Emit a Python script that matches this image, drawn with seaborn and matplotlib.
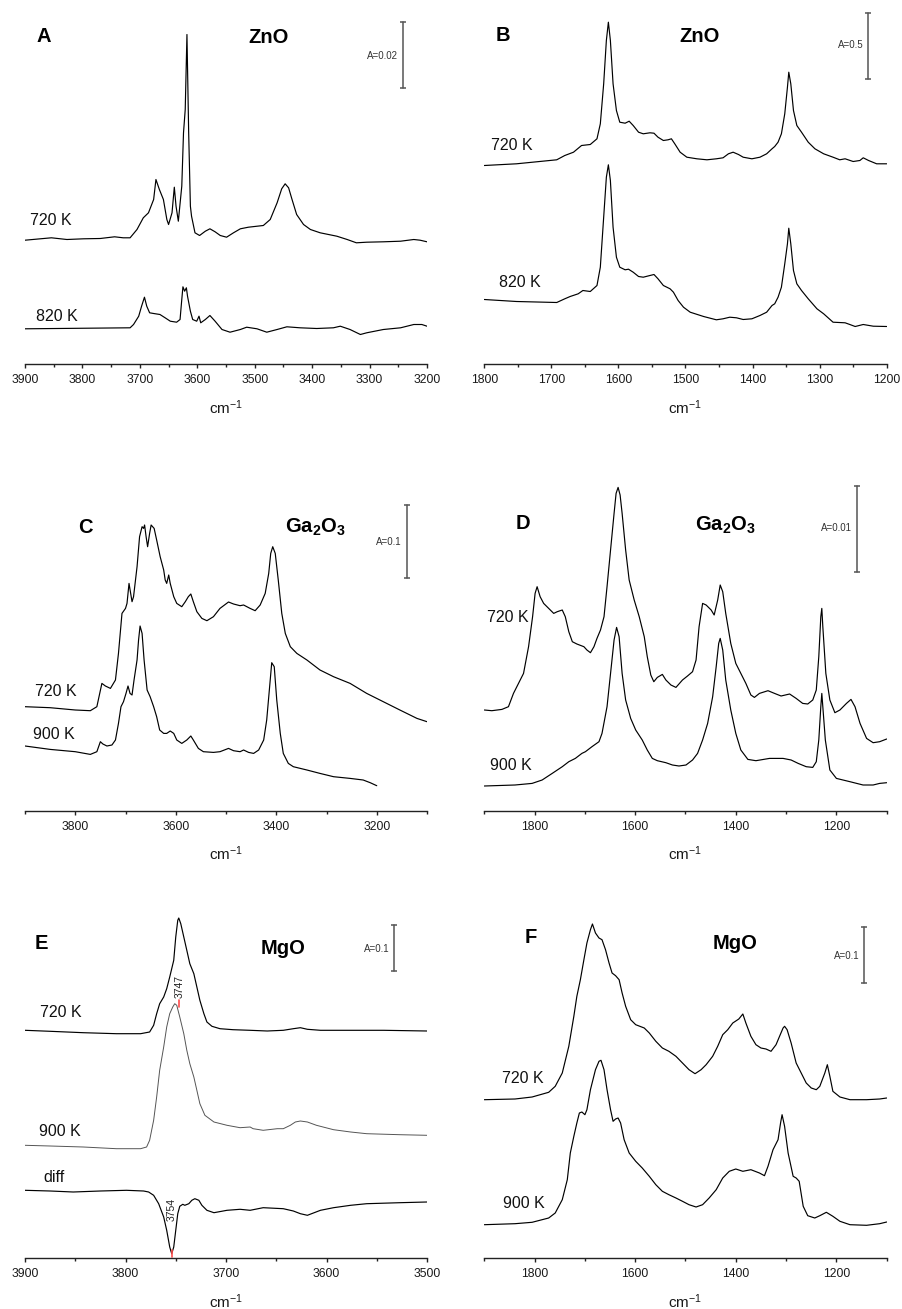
import matplotlib
matplotlib.use("Agg")
import matplotlib.pyplot as plt
from matplotlib.ticker import MultipleLocator
import seaborn as sns
import pandas as pd

# ---------------- data (wavenumber cm-1, absorbance in arbitrary offset units) ----------------
A720_wn = [3900,3854,3827,3798,3769,3744,3729,3717,3705,3694,3685,3676,3672,3666,3659,3653,3650,3644,3640,3637,3633,3627,3624,3621,3618,3615,3612,3610,3604,3596,3586,3578,3569,3560,3549,3537,3525,3511,3485,3473,3461,3453,3447,3441,3435,3427,3415,3403,3386,3357,3339,3323,3305,3276,3246,3223,3212,3200]
A720_ab = [124.3,126.7,125,125.7,126,127.7,126.7,126.7,135,146.7,151.7,165,185,175,165,145,140,151.7,177.3,158.3,143.3,178.3,231.7,255,330,231.7,158.3,148.3,131.7,129,133.3,135.7,132.7,129,127.3,131.7,135.7,137.3,139,145,161.7,175.7,180.7,176.7,165,150,140,135,131.7,128.3,125,121.7,122.3,122.7,123.3,125,124.3,122.7]
A820_wn = [3900,3717,3711,3702,3697,3692,3688,3683,3676,3665,3656,3647,3636,3630,3627,3625,3622,3619,3617,3612,3608,3601,3597,3594,3586,3578,3569,3557,3543,3525,3514,3496,3479,3461,3444,3421,3392,3363,3351,3334,3316,3305,3276,3246,3223,3209,3200]
A820_ab = [35.7,36.7,40,48.3,58.3,67.3,58.3,51.7,51,50,46.7,43.3,42.3,45,65,77.7,73.3,76.7,68.3,53.3,45,43.3,48.3,41.7,45,49,43.3,35,32.3,35,37.3,35.7,32.3,35,37.7,36.7,36,36.7,38.3,35,30,31.7,35,36.7,40,40,38.3]

B720_wn = [1800,1752,1692,1680,1667,1655,1642,1632,1627,1622,1618,1615,1612,1608,1603,1598,1590,1584,1578,1570,1563,1553,1547,1541,1533,1526,1521,1516,1508,1498,1483,1468,1454,1444,1436,1429,1421,1414,1401,1389,1379,1371,1367,1362,1357,1352,1348,1346,1343,1339,1334,1327,1317,1307,1294,1280,1270,1262,1250,1240,1235,1227,1215,1200]
B720_ab = [199,200.7,204.7,209,212.3,219,220,225.7,240.7,280.7,324,342.3,324,280.7,254,242.3,241.3,243.3,239,232.3,230.7,231.7,231.3,227.3,224,224.7,225.7,220.7,212.3,207.3,205.7,204.7,205.7,206.7,210.7,212.3,210,207.3,205.7,207.3,210.7,215.7,218,222.3,230.7,250.7,277.3,292.3,280.7,254,239,232.3,222.3,215.7,210.7,207.3,204.7,205.7,203,204,206.7,204,200.7,200.7]
B820_wn = [1800,1752,1692,1680,1672,1660,1653,1642,1632,1627,1622,1618,1615,1612,1608,1603,1598,1590,1585,1578,1570,1563,1553,1547,1541,1533,1523,1518,1511,1503,1493,1473,1454,1444,1434,1424,1414,1401,1389,1379,1371,1367,1362,1357,1352,1348,1346,1343,1339,1334,1327,1317,1304,1294,1280,1262,1255,1247,1235,1220,1200]
B820_ab = [65,63,62,65.7,68,70.7,74,73,79,97.3,147.3,187.3,199.7,184,137.3,107.3,97.3,94.7,95.3,92.3,88,87.3,89,90,85.7,79,75.7,72.3,64,57.3,52.3,48,44.7,45.7,47.3,46.7,45,45.7,49,52.3,59,60.7,67.3,77.3,100.7,120.7,136.3,120.7,94,80.7,74,65.7,55.7,50.7,42.3,41.7,40,38,40,38.3,38]

C720_wn = [3900,3850,3800,3770,3757,3747,3740,3730,3720,3714,3707,3700,3697,3693,3687,3684,3677,3672,3667,3664,3662,3659,3656,3652,3649,3643,3638,3631,3624,3621,3618,3614,3611,3604,3598,3588,3581,3575,3570,3565,3558,3548,3538,3525,3512,3495,3485,3472,3465,3452,3442,3432,3422,3415,3411,3407,3402,3396,3389,3382,3372,3359,3339,3313,3286,3253,3220,3187,3154,3120,3100]
C720_ab = [104,103,100.7,100,104,127.3,124.7,122.3,130.7,157.3,197.3,202.3,207.3,227.3,209,214,244,274,284,282.3,285.7,274,264,277.3,285.7,282.3,270.7,254,240.7,230.7,227.3,235.7,227.3,214,207.3,204,209,214,216.7,209,199,192.3,190,194,202.3,208.7,206.7,205,205.7,202.3,200,205.7,217.3,237.3,257.3,264,257.3,230.7,197.3,177.3,164,157.3,150.7,140.7,134,127.3,117.3,109,100.7,92.3,89]
C900_wn = [3900,3850,3800,3770,3757,3750,3745,3737,3727,3720,3714,3709,3704,3699,3695,3691,3687,3683,3677,3674,3671,3667,3663,3657,3651,3644,3638,3632,3624,3618,3611,3604,3598,3588,3578,3570,3565,3555,3545,3525,3512,3495,3485,3472,3465,3455,3445,3435,3425,3419,3412,3409,3404,3399,3392,3386,3376,3366,3339,3313,3286,3253,3227,3213,3200]
C900_ab = [64.7,61.3,59,56.3,59,69,66.7,64.7,65.7,70.7,87.3,104,109,117.3,124.7,117.3,115.7,130.7,150.7,170.7,184.7,177.3,150.7,120.7,114,104,94,80.7,77.3,77.3,79.7,77.3,70.7,67.3,70.7,74.7,70.7,62.3,59,58.3,59,62.3,60,59,60.7,58.3,57.3,60.7,70.7,90.7,130.7,148,144,110.7,77.3,57.3,47.3,44,40.7,37.3,34,32.3,30.7,28,25]

D720_wn = [1900,1885,1865,1852,1842,1832,1822,1812,1804,1799,1795,1789,1782,1772,1762,1755,1745,1739,1732,1725,1716,1702,1696,1689,1682,1676,1669,1662,1656,1649,1642,1638,1634,1630,1626,1619,1612,1602,1592,1582,1576,1569,1563,1556,1546,1539,1529,1519,1506,1496,1486,1479,1473,1466,1459,1449,1443,1436,1431,1426,1420,1410,1400,1390,1380,1370,1363,1353,1336,1323,1310,1293,1280,1267,1257,1247,1240,1235,1231,1229,1227,1221,1213,1203,1193,1180,1171,1163,1153,1140,1127,1114,1100]
D720_ab = [100.7,100,101.3,104,117.3,127.3,137.3,164,194,217.3,224,214,207.3,202.3,197.3,199,200.7,194,179,169,166.7,164,160.7,158,164,172.3,180.7,194,224,260.7,297.3,317.3,323.3,315.7,297.3,260.7,230.7,210.7,194,174,154,135.7,129,133.3,136.3,130.7,125.7,123.3,130.7,134.7,139,150.7,184,207.3,205.7,200.7,195.7,210.7,225.7,219,197.3,167.3,147.3,137.3,127.3,115.7,113.3,117.3,120,117.3,114.7,116.7,112.3,107.3,106.7,110.7,120.7,154,194,202.3,184,137.3,110.7,98,100.7,107.3,111.3,104,87.3,72.3,68,69,71.7]
D900_wn = [1900,1839,1805,1785,1765,1745,1732,1719,1706,1699,1686,1672,1666,1656,1649,1642,1637,1632,1626,1619,1609,1599,1586,1576,1566,1556,1539,1526,1513,1499,1486,1476,1466,1456,1446,1439,1434,1431,1426,1420,1410,1400,1390,1376,1360,1333,1306,1290,1276,1260,1247,1240,1235,1231,1229,1227,1222,1213,1200,1173,1147,1127,1114,1100]
D900_ab = [24.7,25.7,27.3,30.7,37.3,44,49,52.3,57.3,59,64,69,77.3,104,137.3,170.7,183.3,174,137.3,110.7,92.3,80.7,70.7,60.7,52.3,50,48,45.7,44.7,45.7,50.7,57.3,70.7,87.3,114,144,167.3,172.3,160.7,130.7,100.7,77.3,60.7,51.3,50,52.3,52.3,50.7,47.3,44,43.3,49,70.7,104,117.3,104,70.7,40.7,32.3,29,25.7,25.7,27.3,28]

E720_wn = [3900,3875,3842,3809,3785,3776,3772,3769,3766,3762,3759,3756,3752,3750,3748,3747,3745,3742,3739,3736,3732,3729,3726,3722,3719,3714,3706,3693,3676,3659,3643,3633,3626,3619,3606,3576,3543,3500]
E720_ab = [227.7,226.7,225.3,224.3,224.3,226,232.7,244.3,254.3,261,269.3,281,297.7,321,337.7,340,334.3,321,307.7,294.3,284.3,271,257.7,244.3,236,231.7,229.3,228.3,227.7,227,227.7,229.3,230.3,228.7,227.7,227.7,227.7,227]
E900_wn = [3900,3875,3842,3809,3785,3779,3776,3772,3769,3766,3762,3759,3756,3753,3751,3749,3746,3742,3739,3736,3732,3729,3726,3721,3712,3699,3686,3676,3673,3663,3649,3643,3636,3631,3626,3619,3610,3593,3576,3560,3527,3500]
E900_ab = [112.7,112,111,109.3,109.3,111,117.7,137.7,161,187.7,211,231,244.3,251,254.3,252.7,241,224.3,207.7,194.3,181,167.7,154.3,142.7,136,132.7,130.3,131,129.3,127.7,129.3,129.3,132.7,136,137,136,132.7,128.3,126,124.3,123.3,122.7]
Ediff_wn = [3900,3875,3852,3825,3799,3782,3777,3772,3767,3762,3759,3756,3754,3752,3750,3748,3746,3743,3741,3737,3734,3731,3727,3724,3719,3712,3699,3686,3676,3663,3643,3633,3626,3619,3606,3593,3576,3560,3527,3500]
Ediff_ab = [67.7,67,66,67,67.7,67,66,62.7,54.3,41,27.7,11,4.3,11,27.7,44.3,51.7,53.7,52.7,54.3,57.7,59.3,57.7,52.7,47.7,45.3,47.7,48.7,47.7,50.3,49.3,47,44.3,42.7,47.7,50.3,52.7,54.3,55.3,56]

F720_wn = [1900,1839,1805,1772,1759,1745,1732,1722,1716,1709,1702,1696,1689,1685,1679,1672,1666,1659,1652,1646,1639,1632,1626,1619,1609,1599,1582,1572,1559,1546,1533,1519,1506,1493,1481,1469,1459,1446,1436,1426,1416,1406,1394,1386,1380,1370,1360,1350,1340,1330,1320,1313,1306,1303,1298,1290,1280,1270,1260,1250,1240,1233,1223,1218,1213,1207,1193,1173,1140,1114,1100]
F720_ab = [158.3,159,161,165.7,171.7,185,211.7,241.7,261.7,278.3,298.3,315,328.3,334,325,320,318.3,308.3,295,285,282.3,278.3,265,251.7,238.3,233.3,230,225,216.7,210,206.7,201.7,195,188.3,184.3,188.3,193.3,201.7,211.7,223.3,228.3,235,239,244,235,221.7,213.3,210,209,206.7,213.3,221.7,230,231.7,228.3,215,195,185,175,170,168.3,171.7,185,193.3,181.7,166.7,161,158.3,158.3,159,160]
F900_wn = [1900,1839,1805,1772,1759,1745,1735,1729,1722,1716,1711,1706,1700,1696,1689,1679,1672,1668,1662,1656,1649,1644,1639,1634,1629,1622,1612,1599,1586,1572,1559,1546,1533,1519,1506,1493,1479,1466,1453,1439,1426,1413,1400,1386,1370,1353,1343,1336,1326,1316,1311,1308,1303,1296,1286,1280,1274,1266,1257,1243,1233,1220,1207,1193,1173,1140,1114,1100]
F900_ab = [33.3,34.3,35.7,40,45,58.3,78.3,105,121.7,135,145,146,143.3,148.3,168.3,188.3,196.7,197.7,188.3,168.3,148.3,136.7,139,140,135,118.3,105,96.7,90,81.7,73.3,66.7,63.3,60,56.7,53.3,51,53.3,60,68.3,80,86.7,89,86.7,88.3,85,82.3,91.7,108.3,118.3,135,143.3,131.7,105,81.7,80,76.7,51.7,42.3,40,42.3,45.7,41.7,36.7,33.3,32.7,34.3,36]

# panel settings
panel_letters = ["A", "B", "C", "D", "E", "F"]
panel_titles = ["ZnO", "ZnO", r"$\mathbf{Ga_2O_3}$", r"$\mathbf{Ga_2O_3}$", "MgO", "MgO"]
x_limits = [(3900, 3200), (1800, 1200), (3900, 3100), (1900, 1100), (3900, 3500), (1900, 1100)]
major_steps = [100, 100, 200, 200, 100, 200]
minor_steps = [50, 50, 100, 100, 50, 100]
scale_labels = ["A=0.02", "A=0.5", "A=0.1", "A=0.01", "A=0.1", "A=0.1"]
scale_wn = [3242, 1228, 3140, 1160, 3533, 1145]
scale_lo = [276, 285, 233, 239, 287, 275]
scale_hi = [342.5, 351.3, 305.7, 325, 332.7, 330.7]

curves = [
    [("720 K", A720_wn, A720_ab, "black"), ("820 K", A820_wn, A820_ab, "black")],
    [("720 K", B720_wn, B720_ab, "black"), ("820 K", B820_wn, B820_ab, "black")],
    [("720 K", C720_wn, C720_ab, "black"), ("900 K", C900_wn, C900_ab, "black")],
    [("720 K", D720_wn, D720_ab, "black"), ("900 K", D900_wn, D900_ab, "black")],
    [("720 K", E720_wn, E720_ab, "black"), ("900 K", E900_wn, E900_ab, "#555555"),
     ("diff", Ediff_wn, Ediff_ab, "black")],
    [("720 K", F720_wn, F720_ab, "black"), ("900 K", F900_wn, F900_ab, "black")],
]

# label positions (axes fractions) - layout only
letter_pos = [(0.047, 0.925), (0.047, 0.928), (0.150, 0.799), (0.097, 0.809), (0.040, 0.886), (0.116, 0.902)]
title_pos = [(0.607, 0.922), (0.534, 0.925), (0.721, 0.797), (0.598, 0.805), (0.643, 0.872), (0.622, 0.885)]
scale_text_pos = [(0.928, 0.869), (0.942, 0.900), (0.937, 0.758), (0.913, 0.795), (0.906, 0.8715), (0.932, 0.850)]
curve_label_pos = [
    [(0.0647, 0.407), (0.0796, 0.134)],
    [(0.0689, 0.6155), (0.0875, 0.231)],
    [(0.0759, 0.337), (0.0709, 0.216)],
    [(0.0577, 0.544), (0.0664, 0.126)],
    [(0.0896, 0.691), (0.0858, 0.357), (0.0721, 0.226)],
    [(0.0949, 0.505), (0.0987, 0.153)],
]

# peak annotations in E
peak_wn = [3747, 3754]
peak_lo = [251, 1]
peak_hi = [257.7, 7.7]
peak_text_pos = [(0.3856, 0.7654), (0.365, 0.1372)]

# ---------------- style ----------------
sns.set_theme(style="ticks")
plt.rcParams["font.family"] = ["Liberation Sans", "DejaVu Sans"]
plt.rcParams["mathtext.fontset"] = "custom"
plt.rcParams["mathtext.rm"] = "Liberation Sans"
plt.rcParams["mathtext.bf"] = "Liberation Sans:bold"
plt.rcParams["mathtext.it"] = "Liberation Sans:italic"

W, H = 903, 1309
fig = plt.figure(figsize=(W / 100, H / 100), dpi=100)

col_x0 = [25, 484.3]
col_w = [402, 402.4]
row_bottom = [364.5, 810.7, 1258]
ax_h = 355

for i in range(6):
    r, c = divmod(i, 2)
    ax = fig.add_axes([col_x0[c] / W, 1 - row_bottom[r] / H, col_w[c] / W, ax_h / H])
    ax.set_facecolor("white")
    for name, wn, ab, colr in curves[i]:
        df = pd.DataFrame({"wn": wn, "ab": ab})
        lw = 0.7 if colr != "black" else 0.85
        sns.lineplot(data=df, x="wn", y="ab", ax=ax, color=colr, lw=lw,
                     sort=False, estimator=None)
    ax.set_xlim(*x_limits[i])
    ax.set_ylim(0, ax_h)
    ax.xaxis.set_major_locator(MultipleLocator(major_steps[i]))
    ax.xaxis.set_minor_locator(MultipleLocator(minor_steps[i]))
    ax.tick_params(axis="x", which="major", direction="out", length=3.2, width=1.0,
                   labelsize=8.7, pad=4, color="#222222", labelcolor="#1a1a1a")
    ax.tick_params(axis="x", which="minor", direction="out", length=1.9, width=1.0,
                   color="#222222")
    ax.set_yticks([])
    ax.set_ylabel("")
    for s in ("left", "top", "right"):
        ax.spines[s].set_visible(False)
    ax.spines["bottom"].set_linewidth(1.0)
    ax.spines["bottom"].set_color("#222222")
    ax.set_xlabel("cm$^{-1}$", fontsize=11, color="#1a1a1a")
    ax.xaxis.set_label_coords(0.5, -34 / ax_h)

    ax.text(*letter_pos[i], panel_letters[i], transform=ax.transAxes, fontsize=14.5,
            fontweight="bold", ha="center", va="center", color="black")
    ax.text(*title_pos[i], panel_titles[i], transform=ax.transAxes, fontsize=14.5,
            fontweight="bold", ha="center", va="center", color="black")
    for (name, _, _, _), (px, py) in zip(curves[i], curve_label_pos[i]):
        ax.text(px, py, name, transform=ax.transAxes, fontsize=11.5,
                ha="center", va="center", color="#111111")

    # scale bar
    ax.plot([scale_wn[i], scale_wn[i]], [scale_lo[i], scale_hi[i]], color="#555555",
            lw=1.1, marker="_", markersize=5, markeredgewidth=1.1, clip_on=False)
    ax.text(*scale_text_pos[i], scale_labels[i], transform=ax.transAxes, fontsize=7,
            ha="right", va="center", color="#333333")

    if i == 4:
        for pw, lo, hi, (tx, ty) in zip(peak_wn, peak_lo, peak_hi, peak_text_pos):
            ax.plot([pw, pw], [lo, hi], color="#ff4d4d", lw=1.2, clip_on=False)
            ax.text(tx, ty, str(pw), transform=ax.transAxes, fontsize=7.5,
                    rotation=90, ha="center", va="center", color="#222222")

fig.savefig("out.png", dpi=100, facecolor="white")
